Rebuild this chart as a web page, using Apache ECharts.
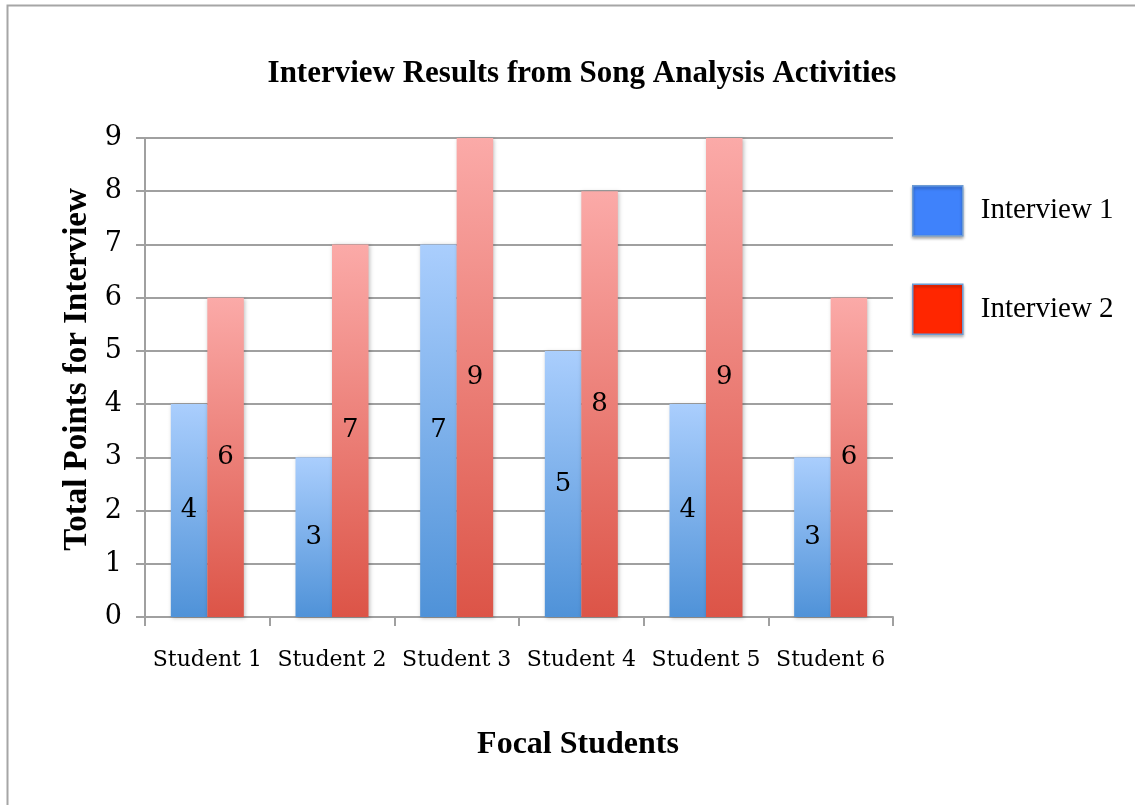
<!DOCTYPE html>
<html>
<head>
<meta charset="utf-8">
<script src="https://cdn.jsdelivr.net/npm/echarts@6/dist/echarts.min.js"></script>
<style>
html,body{margin:0;padding:0;background:#fff;}
#c{width:1135px;height:805px;}
</style>
</head>
<body>
<div id="c"></div>
<script>
const categories = ['Student 1', 'Student 2', 'Student 3', 'Student 4', 'Student 5', 'Student 6'];
const interview1 = [4, 3, 7, 5, 4, 3];
const interview2 = [6, 7, 9, 8, 9, 6];
const seriesNames = ['Interview 1', 'Interview 2'];

const chart = echarts.init(document.getElementById('c'));
const grad = (top, bottom) => new echarts.graphic.LinearGradient(0, 0, 0, 1, [
  { offset: 0, color: top }, { offset: 1, color: bottom }
]);
const labelStyle = {
  show: true, position: 'inside', color: '#000',
  fontFamily: 'DejaVu Serif', fontSize: 26
};
const barShadow = { shadowColor: 'rgba(0,0,0,0.25)', shadowBlur: 4, shadowOffsetX: 1, shadowOffsetY: 1 };

chart.setOption({
  animation: false,
  backgroundColor: '#fff',
  title: {
    text: 'Interview Results from Song Analysis Activities',
    left: 577, top: 53, textAlign: 'center',
    textStyle: { fontFamily: 'Liberation Serif', fontWeight: 'bold', fontSize: 31, color: '#000' }
  },
  graphic: [{
    type: 'rect', silent: true, z: -1,
    shape: { x: 7.5, y: 5.5, width: 1200, height: 900 },
    style: { fill: 'none', stroke: '#a6a6a6', lineWidth: 2 }
  }],
  legend: {
    orient: 'vertical', left: 907, top: 180, itemWidth: 50, itemHeight: 50, itemGap: 47,
    icon: 'rect',
    textStyle: { fontFamily: 'Liberation Serif', fontSize: 29, color: '#000', padding: [0, 0, 0, 13] },
    data: [
      { name: seriesNames[0], itemStyle: { color: '#3f82fb', borderColor: '#6d9bd3', borderWidth: 1.5, shadowColor: 'rgba(0,0,0,0.35)', shadowBlur: 3, shadowOffsetY: 2 } },
      { name: seriesNames[1], itemStyle: { color: '#ff2600', borderColor: '#6d9bd3', borderWidth: 1.5, shadowColor: 'rgba(0,0,0,0.35)', shadowBlur: 3, shadowOffsetY: 2 } }
    ]
  },
  grid: { left: 145, right: 242, top: 138, bottom: 188 },
  xAxis: {
    type: 'category', data: categories,
    name: 'Focal Students', nameLocation: 'middle', nameGap: 112,
    nameTextStyle: { fontFamily: 'Liberation Serif', fontWeight: 'bold', fontSize: 32, color: '#000', padding: [0, 0, 0, 118] },
    axisLine: { lineStyle: { color: '#a0a0a0', width: 2 } },
    axisTick: { show: true, length: 9, lineStyle: { color: '#a0a0a0', width: 2 } },
    axisLabel: { interval: 0, margin: 32, fontFamily: 'DejaVu Serif', fontSize: 22, color: '#000' }
  },
  yAxis: {
    type: 'value', min: 0, max: 9, interval: 1,
    name: 'Total Points for Interview', nameLocation: 'middle', nameGap: 44, nameRotate: 90,
    nameTextStyle: { fontFamily: 'Liberation Serif', fontWeight: 'bold', fontSize: 33, color: '#000', padding: [0, 0, 0, 16] },
    axisLine: { show: true, lineStyle: { color: '#a0a0a0', width: 2 } },
    axisTick: { show: true, length: 9, lineStyle: { color: '#a0a0a0', width: 2 } },
    splitLine: { lineStyle: { color: '#a0a0a0', width: 2 } },
    axisLabel: { margin: 23, fontFamily: 'DejaVu Serif', fontSize: 27, color: '#000' }
  },
  series: [
    {
      name: seriesNames[0], type: 'bar', data: interview1, barWidth: 36.5, barGap: '0%',
      itemStyle: Object.assign({ color: grad('#aacefd', '#4f92d8') }, barShadow),
      label: labelStyle
    },
    {
      name: seriesNames[1], type: 'bar', data: interview2, barWidth: 36.5, barGap: '0%',
      itemStyle: Object.assign({ color: grad('#fbaaa8', '#dc5447') }, barShadow),
      label: labelStyle
    }
  ]
});
</script>
</body>
</html>
